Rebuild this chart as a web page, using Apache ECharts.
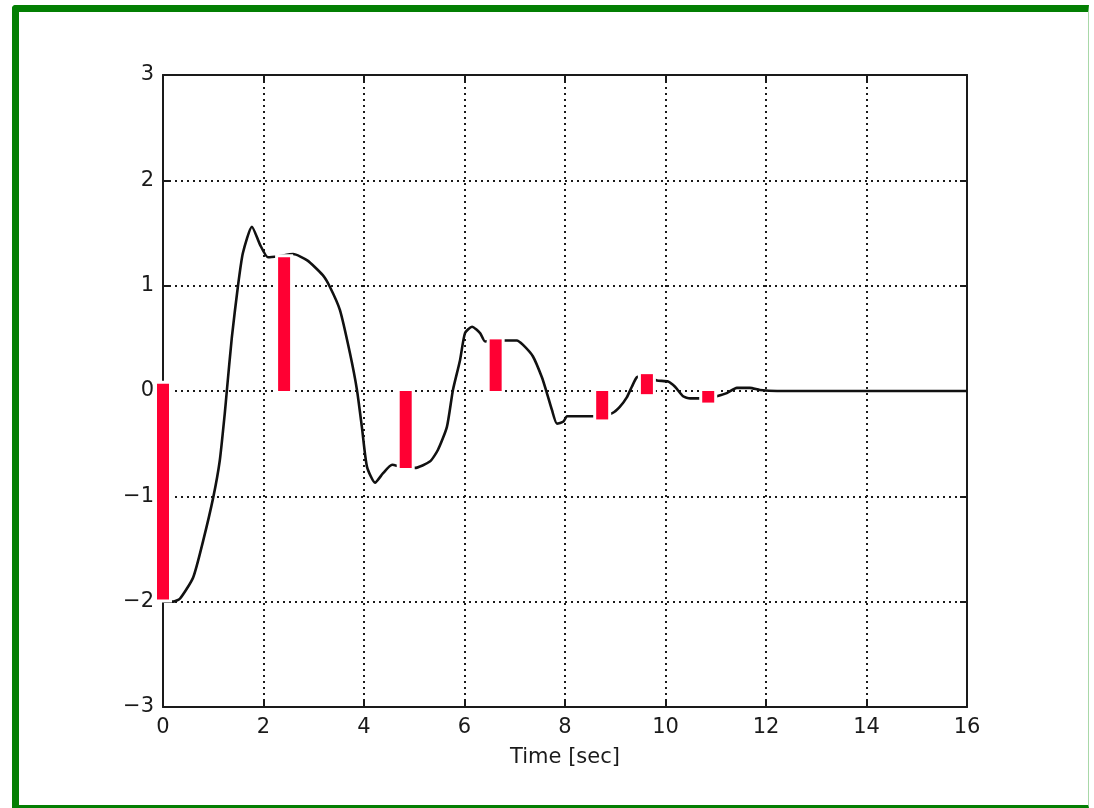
<!DOCTYPE html>
<html>
<head>
<meta charset="utf-8">
<script src="https://cdn.jsdelivr.net/npm/echarts@6/dist/echarts.min.js"></script>
<style>
  html, body { margin: 0; padding: 0; background: #fff; }
  #frame {
    position: absolute; left: 12px; top: 5px; width: 1077px; height: 803px;
    border-left: 7px solid #037f03; border-top: 7px solid #037f03;
    border-right: 1px solid #a8d8a8; border-bottom: 3px solid #037f03;
    border-top-left-radius: 4px; box-sizing: border-box;
  }
  #chart { position: absolute; left: 0; top: 0; width: 1094px; height: 808px; }
</style>
</head>
<body>
<div id="frame"></div>
<div id="chart"></div>
<script>
// response curve (time in sec, value)
var curveTime = [0, 0.2, 0.34, 0.6, 0.8, 1.0, 1.13, 1.23, 1.27, 1.37, 1.49, 1.59, 1.77, 1.93, 2.09, 2.3,
  2.59, 2.87, 3.18, 3.32, 3.52, 3.72, 3.86, 3.96, 4.06, 4.22, 4.38, 4.56, 4.75, 5.01, 5.31, 5.47,
  5.65, 5.77, 5.91, 6.01, 6.15, 6.31, 6.41, 6.6, 6.85, 7.04, 7.16, 7.36, 7.54, 7.64, 7.74, 7.84,
  7.97, 8.04, 8.56, 8.74, 8.94, 9.09, 9.23, 9.33, 9.43, 9.55, 9.83, 10.05, 10.19, 10.35, 10.49,
  10.63, 10.85, 11.02, 11.22, 11.42, 11.68, 11.88, 12.22, 16];
var curveValue = [-2, -2, -1.97, -1.77, -1.42, -1.01, -0.66, -0.21, 0, 0.51, 0.99, 1.31, 1.56, 1.39, 1.27, 1.28,
  1.3, 1.24, 1.1, 0.99, 0.77, 0.36, 0.01, -0.35, -0.72, -0.87, -0.78, -0.7, -0.72, -0.73, -0.67, -0.56,
  -0.34, 0.01, 0.29, 0.55, 0.61, 0.55, 0.47, 0.48, 0.48, 0.48, 0.44, 0.33, 0.13, -0.02, -0.18, -0.31,
  -0.29, -0.24, -0.24, -0.23, -0.21, -0.15, -0.06, 0.04, 0.13, 0.14, 0.1, 0.09, 0.04, -0.05, -0.07,
  -0.07, -0.07, -0.05, -0.02, 0.03, 0.03, 0.01, 0, 0];

// red bars: position, lower end, upper end
var barTime = [0, 2.41, 4.83, 6.62, 8.74, 9.63, 10.85];
var barLow = [-1.98, 0, -0.73, 0, -0.27, -0.03, -0.11];
var barHigh = [0.07, 1.27, 0, 0.49, 0, 0.16, 0];

var xTicks = [0, 2, 4, 6, 8, 10, 12, 14, 16];
var yTicks = [-3, -2, -1, 0, 1, 2, 3];

var curveData = curveTime.map(function (t, i) { return [t, curveValue[i]]; });
var barData = barTime.map(function (t, i) { return [t, barLow[i], barHigh[i]]; });

var font = 'DejaVu Sans';
var textColor = '#1a1a1a';
var gridDash = { color: '#1a1a1a', width: 2, type: [2, 4] };
var boxLine = { color: '#1a1a1a', width: 2 };
var tick = { show: true, inside: true, length: 7, lineStyle: { color: '#1a1a1a', width: 2 } };

var chart = echarts.init(document.getElementById('chart'));
chart.setOption({
  backgroundColor: 'transparent',
  animation: false,
  grid: { left: 163, right: 127, top: 75, bottom: 101 },
  xAxis: [{
    type: 'value', min: xTicks[0], max: xTicks[xTicks.length - 1], interval: 2,
    name: 'Time [sec]', nameLocation: 'middle', nameGap: 40,
    nameTextStyle: { fontFamily: font, fontSize: 21, color: textColor },
    axisLine: { show: true, onZero: false, lineStyle: boxLine },
    axisTick: tick,
    axisLabel: { fontFamily: font, fontSize: 21, color: textColor, margin: 10 },
    splitLine: { show: true, lineStyle: gridDash }
  }, {
    type: 'value', position: 'top', min: xTicks[0], max: xTicks[xTicks.length - 1], interval: 2,
    axisLine: { show: true, onZero: false, lineStyle: boxLine },
    axisTick: tick,
    axisLabel: { show: false }, splitLine: { show: false }
  }],
  yAxis: [{
    type: 'value', min: yTicks[0], max: yTicks[yTicks.length - 1], interval: 1,
    axisLine: { show: true, onZero: false, lineStyle: boxLine },
    axisTick: tick,
    axisLabel: {
      fontFamily: font, fontSize: 21, color: textColor, margin: 9,
      formatter: function (v) { return String(v).replace('-', '\u2212'); }
    },
    splitLine: { show: true, lineStyle: gridDash }
  }, {
    type: 'value', position: 'right', min: yTicks[0], max: yTicks[yTicks.length - 1], interval: 1,
    axisLine: { show: true, onZero: false, lineStyle: boxLine },
    axisTick: tick,
    axisLabel: { show: false }, splitLine: { show: false }
  }],
  series: [{
    type: 'line',
    data: curveData,
    showSymbol: false,
    smooth: 0.2,
    z: 3,
    lineStyle: { color: '#111', width: 2.6 }
  }, {
    type: 'custom',
    z: 5,
    data: barData,
    renderItem: function (params, api) {
      var top = api.coord([api.value(0), api.value(2)]);
      var bot = api.coord([api.value(0), api.value(1)]);
      var w = 12, pad = 3;
      return {
        type: 'group',
        children: [{
          type: 'rect',
          shape: { x: top[0] - w / 2 - pad, y: top[1] - pad, width: w + 2 * pad, height: bot[1] - top[1] + 2 * pad },
          style: { fill: '#fff' }
        }, {
          type: 'rect',
          shape: { x: top[0] - w / 2, y: top[1], width: w, height: bot[1] - top[1] },
          style: { fill: '#ff0033' }
        }]
      };
    }
  }]
});
</script>
</body>
</html>
